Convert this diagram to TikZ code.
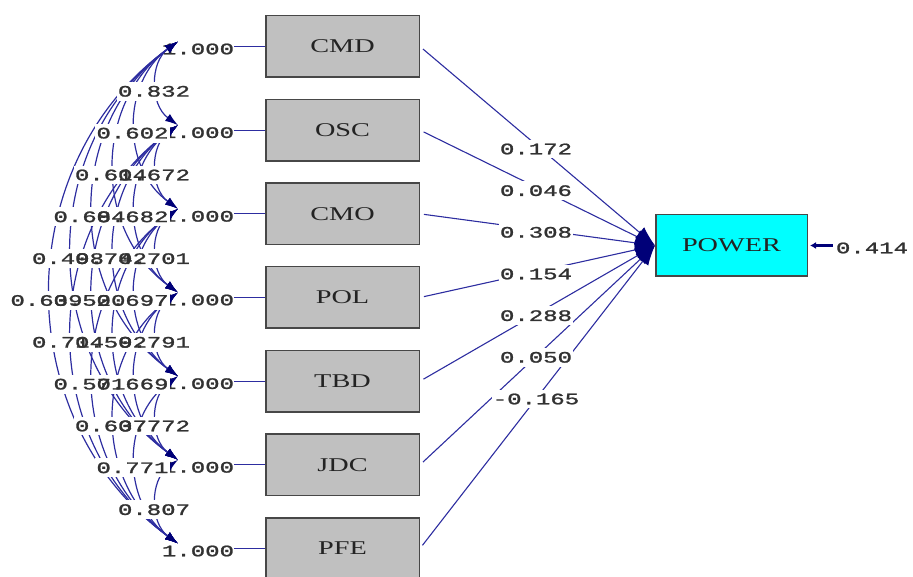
\documentclass[tikz,border=0pt]{standalone}
\usepackage{fontspec}
\usepackage{graphicx}
\usetikzlibrary{arrows.meta}
\newfontfamily\lisnum[FakeBold=1.2]{Liberation Mono}
\newfontfamily\lisbox{Liberation Serif}
\definecolor{pathblue}{RGB}{45,45,160}
\definecolor{tipnavy}{RGB}{0,0,120}
\definecolor{boxgray}{RGB}{192,192,192}
\definecolor{powercyan}{RGB}{0,255,255}
\definecolor{numgray}{RGB}{50,50,50}
\definecolor{boxtext}{RGB}{35,35,35}
% wide numeric and box labels
\newcommand{\numtxt}[1]{\scalebox{1.5}[1]{\fontsize{16}{16}\selectfont\lisnum #1}}
\newcommand{\boxtxt}[1]{\scalebox{1.45}[1]{\fontsize{19.5}{20}\selectfont\lisbox #1}}
\begin{document}
\begin{tikzpicture}[x=1pt,y=1pt,
  varbox/.style={draw=black!72,line width=1.5pt,fill=boxgray,minimum width=153.5pt,minimum height=61.5pt,inner sep=0pt,text=boxtext},
  powerbox/.style={varbox,fill=powercyan,minimum width=151.5pt},
  numlab/.style={inner sep=0pt,text=numgray},
  labbg/.style={fill=white,inner xsep=1pt,inner ysep=4pt},
  link/.style={draw=pathblue,line width=1.1pt},
  cov/.style={link,line width=1.2pt,<->,>={Latex[length=13pt,width=8.5pt,color=tipnavy]}},
  gamma/.style={link,->,>={Latex[length=20pt,width=14pt,color=tipnavy]}},
]
\useasboundingbox (0,0) rectangle (913,576);

% observed variables with their unit variances
\foreach \n [count=\i] in {CMD,OSC,CMO,POL,TBD,JDC,PFE}{
  \pgfmathsetmacro{\yy}{576-46.5-83.667*(\i-1)}
  \node[varbox] (\n) at (342.5,\yy) {\boxtxt{\n}};
  \node[numlab] (var\i) at (198,\yy-2.5) {\numtxt{1.000}};
  \coordinate (e\i) at (178,\yy+5);
  \draw[link] (var\i.east |- \n.west) -- (\n.west);
}

% dependent variable
\node[powerbox] (POWER) at (731.5,330.5) {\boxtxt{POWER}};

% covariance arcs
\foreach \i/\j in {1/2,1/3,1/4,2/3,1/5,2/4,1/6,2/5,3/4,1/7,2/6,3/5,2/7,3/6,4/5,3/7,4/6,4/7,5/6,5/7,6/7}{
  \draw[cov] (e\i) to[out=216,in=144,looseness=1.07] (e\j);
}

% structural paths
\foreach \n in {CMD,OSC,CMO,POL,TBD,JDC,PFE}{
  \draw[gamma,shorten <=4pt] (\n.east) -- (POWER.west);
}

% covariance labels: backgrounds first, then the values
\foreach \i/\j/\v in {1/2/0.832,1/3/0.602,1/4/0.614,2/3/0.672,1/5/0.684,2/4/0.682,1/6/0.498,2/5/0.742,3/4/0.701,1/7/0.639,2/6/0.520,3/5/0.697,2/7/0.714,3/6/0.592,4/5/0.791,3/7/0.571,4/6/0.669,4/7/0.637,5/6/0.772,5/7/0.771,6/7/0.807}{
  \pgfmathsetmacro{\xc}{154-21.5*(\j-\i-1)}
  \pgfmathsetmacro{\yc}{576-46.5-41.833*(\i+\j-2)-3}
  \node[labbg] (bg\i\j) at (\xc,\yc) {\phantom{\numtxt{\v}}};
}
\foreach \i/\j/\v in {1/2/0.832,1/3/0.602,1/4/0.614,2/3/0.672,1/5/0.684,2/4/0.682,1/6/0.498,2/5/0.742,3/4/0.701,1/7/0.639,2/6/0.520,3/5/0.697,2/7/0.714,3/6/0.592,4/5/0.791,3/7/0.571,4/6/0.669,4/7/0.637,5/6/0.772,5/7/0.771,6/7/0.807}{
  \pgfmathsetmacro{\xc}{154-21.5*(\j-\i-1)}
  \pgfmathsetmacro{\yc}{576-46.5-41.833*(\i+\j-2)-3}
  \node[numlab] (c\i\j) at (\xc,\yc) {\numtxt{\v}};
}

% path coefficients
\foreach \v [count=\k] in {0.172,0.046,0.308,0.154,0.288,0.050,-0.165}{
  \pgfmathsetmacro{\yc}{576-149-41.667*(\k-1)}
  \node[labbg] (gb\k) at (536,\yc) {\phantom{\numtxt{\v}}};
  \node[numlab] (g\k) at (536,\yc) {\numtxt{\v}};
}

% error variance
\node[numlab] (err) at (872,328) {\numtxt{0.414}};
\draw[line width=2.5pt,draw=tipnavy,-{Latex[length=6pt,width=7pt]},shorten <=3pt,shorten >=2pt] (err.west |- POWER.east) -- (POWER.east);
\end{tikzpicture}
\end{document}
